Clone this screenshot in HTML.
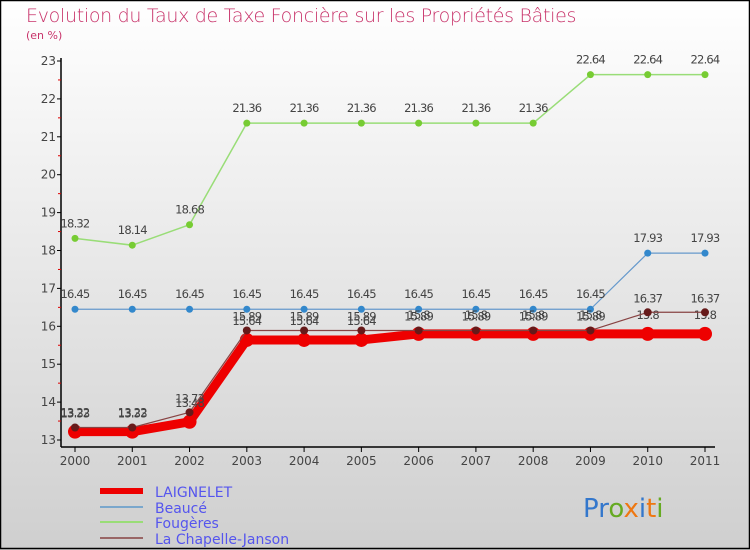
<!DOCTYPE html>
<html><head><meta charset="utf-8"><style>
body{margin:0;width:750px;height:550px;overflow:hidden}
svg{display:block;font-family:"DejaVu Sans","Liberation Sans",sans-serif}
</style></head><body>
<svg id="chart" width="750" height="550" xmlns="http://www.w3.org/2000/svg">
<defs><linearGradient id="bg" x1="0" y1="0" x2="0" y2="1"><stop offset="0" stop-color="#ffffff"/><stop offset="1" stop-color="#cfcfcf"/></linearGradient></defs>
<rect x="0" y="0" width="750" height="550" fill="url(#bg)"/>
<rect x="0.5" y="0.5" width="749" height="548" fill="none" stroke="#000" stroke-width="1.5"/>
<text x="26" y="22" font-size="19" fill="#c8336a" font-weight="300" style="letter-spacing:-0.3px">Evolution du Taux de Taxe Foncière sur les Propriétés Bâties</text>
<text x="26" y="39" font-size="11" fill="#c8336a">(en %)</text>
<g id="axes"></g><g id="series"></g>
<g>
<rect x="100" y="488" width="43" height="6" fill="#ee0000"/>
<text x="155" y="497" font-size="14" fill="#5555ee">LAIGNELET</text>
<rect x="100" y="506" width="43" height="2" fill="#7aa7cc"/>
<text x="155" y="513" font-size="14" fill="#5555ee">Beaucé</text>
<rect x="100" y="521" width="43" height="2" fill="#99dd77"/>
<text x="155" y="528" font-size="14" fill="#5555ee">Fougères</text>
<rect x="100" y="537" width="43" height="2" fill="#996666"/>
<text x="155" y="544" font-size="14" fill="#5555ee">La Chapelle-Janson</text>
</g>
<text x="583" y="517" font-size="26" font-family="DejaVu Sans, sans-serif"><tspan fill="#3377cc">Pr</tspan><tspan fill="#66aa22">o</tspan><tspan fill="#ee7711">x</tspan><tspan fill="#3377cc">i</tspan><tspan fill="#ee7711">t</tspan><tspan fill="#66aa22">i</tspan></text>
</svg>
<script>
const years=[2000,2001,2002,2003,2004,2005,2006,2007,2008,2009,2010,2011];
const yTicks=[13,14,15,16,17,18,19,20,21,22,23];
const laignelet=[13.22,13.22,13.48,15.64,15.64,15.64,15.8,15.8,15.8,15.8,15.8,15.8];
const beauce=[16.45,16.45,16.45,16.45,16.45,16.45,16.45,16.45,16.45,16.45,17.93,17.93];
const fougeres=[18.32,18.14,18.68,21.36,21.36,21.36,21.36,21.36,21.36,22.64,22.64,22.64];
const chapelle=[13.33,13.33,13.73,15.89,15.89,15.89,15.89,15.89,15.89,15.89,16.37,16.37];
const NS='http://www.w3.org/2000/svg';
const X=i=>75+i*(630/(years.length-1));
const Y=v=>440-(v-13)*37.9;
function mk(t,a,p){const e=document.createElementNS(NS,t);for(const k in a)e.setAttribute(k,a[k]);p.appendChild(e);return e;}
const ax=document.getElementById('axes');
let yl=mk('line',{x1:61,y1:Y(23)-3,x2:61,y2:447,stroke:'#000','stroke-width':1.5},ax);


let xl=mk('line',{x1:61,y1:447,x2:715,y2:447,stroke:'#000','stroke-width':1.5},ax);


yTicks.forEach(v=>{
 mk('line',{x1:57,y1:Y(v),x2:61,y2:Y(v),stroke:'#000'},ax);
 if(v<23)mk('line',{x1:58,y1:Y(v+0.5),x2:61,y2:Y(v+0.5),stroke:'#d00'},ax);
 const t=mk('text',{x:56,y:Y(v)+4,'font-size':12,fill:'#444','text-anchor':'end'},ax);
 t.textContent=v;
 
 
});
years.forEach((y,i)=>{
 mk('line',{x1:X(i),y1:447,x2:X(i),y2:452,stroke:'#000'},ax);
 const t=mk('text',{x:X(i),y:465,'font-size':12,fill:'#444','text-anchor':'middle'},ax);
 t.textContent=y;
 
 
});
const sg=document.getElementById('series');
function series(name,vals,color,w,r,dot,labOff){
 const g=mk('g',{},sg);
 
 
 mk('polyline',{points:vals.map((v,i)=>X(i)+','+Y(v)).join(' '),fill:'none',stroke:color,'stroke-width':w,'stroke-linejoin':'round'},g);
 vals.forEach((v,i)=>{
  const c=mk('circle',{cx:X(i),cy:Y(v),r:r,fill:dot},g);
  
  
  const t=mk('text',{x:X(i),y:Y(v)-labOff,'font-size':11.5,fill:'#444','text-anchor':'middle','letter-spacing':'-0.8'},g);
  t.textContent=v;
  
  
 });
}
series('fougeres-line',fougeres,'#99dd77',1.5,3.5,'#77cc33',11);
series('beauce-line',beauce,'#6699cc',1.2,3.5,'#3388cc',11);
series('laignelet-line',laignelet,'#ee0000',9,7,'#ee0000',15);
series('chapelle-line',chapelle,'#884444',1.2,4,'#661a1a',10);
</script>
</body></html>
